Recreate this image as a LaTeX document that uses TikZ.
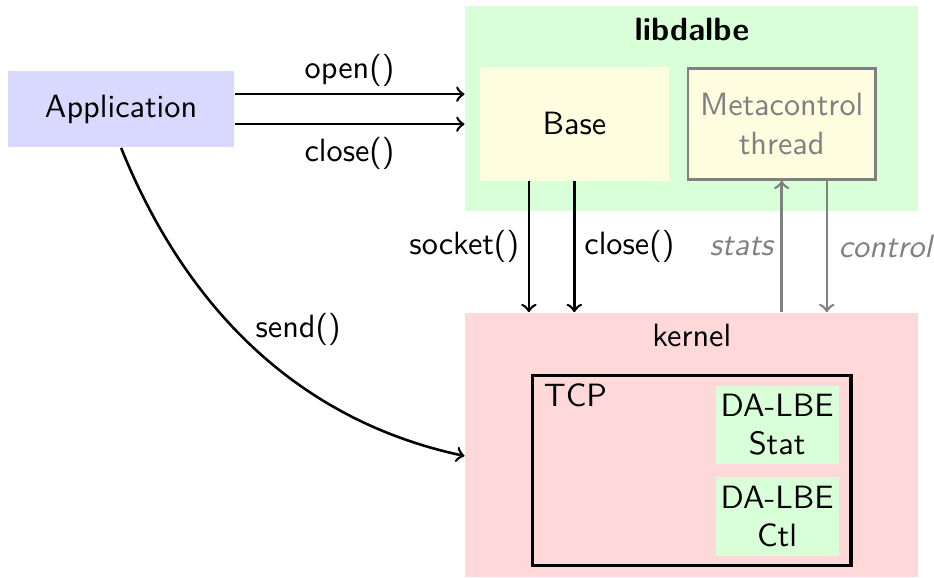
\documentclass[tikz,border=0pt]{standalone}
\renewcommand{\familydefault}{\sfdefault}
\begin{document}
\begin{tikzpicture}[
  box/.style={inner sep=0pt, align=center},
  lbl/.style={inner sep=0pt}]
\useasboundingbox (0,0) rectangle (10.18,-6.29);
% layers
\node[box, fill=green!15, minimum width=4.94cm, minimum height=2.23cm] (lib) at (7.54,-1.18) {};
\node[box, fill=red!15, minimum width=4.94cm, minimum height=2.88cm] (kernel) at (7.54,-4.85) {};
\node[lbl] (libname) at (7.54,-0.32) {\bfseries libdalbe};
\node[lbl] (kername) at (7.54,-3.66) {kernel};
% boxes
\node[box, fill=blue!15, minimum width=2.47cm, minimum height=0.83cm] (app) at (1.32,-1.19) {Application};
\node[box, fill=yellow!12, minimum width=2.06cm, minimum height=1.24cm] (base) at (6.26,-1.35) {Base};
\node[box, fill=yellow!12, draw=gray, thick, text=gray, minimum width=2.04cm, minimum height=1.21cm] (meta) at (8.52,-1.35) {Metacontrol\\thread};
\node[box, draw, line width=1pt, minimum width=3.47cm, minimum height=2.07cm] (tcp) at (7.54,-5.13) {};
\node[lbl, anchor=west] (tcpname) at (5.92,-4.31) {TCP};
\node[box, fill=green!15, minimum width=1.34cm, minimum height=0.85cm] (stat) at (8.47,-4.63) {DA-LBE\\Stat};
\node[box, fill=green!15, minimum width=1.34cm, minimum height=0.86cm] (ctl) at (8.47,-5.63) {DA-LBE\\Ctl};
% calls
\path[draw,thick,->] ([yshift=4.65pt]app.east) -- ([yshift=4.65pt]app.east -| lib.west);
\path[draw,thick,->] ([yshift=-4.65pt]app.east) -- ([yshift=-4.65pt]app.east -| lib.west);
\path[draw,thick,->] ([xshift=-14.1pt]base.south) -- ([xshift=-14.1pt]base.south |- kernel.north);
\path[draw,thick,->] (base.south) -- (base.south |- kernel.north);
\path[draw,thick,->,gray] (meta.south |- kernel.north) -- (meta.south);
\path[draw,thick,->,gray] ([xshift=14pt]meta.south) -- ([xshift=14pt]meta.south |- kernel.north);
\path[draw,thick,->] (app.south) to[out=-68, in=168, looseness=0.95] ([yshift=-3.4pt]kernel.west);
% labels
\node[lbl] (openlbl) at (3.81,-0.77) {open()};
\node[lbl] (closelbl) at (3.81,-1.67) {close()};
\node[lbl] (socklbl) at (5.06,-2.69) {socket()};
\node[lbl] (kcloselbl) at (6.86,-2.69) {close()};
\node[lbl, text=gray] (statslbl) at (8.08,-2.69) {\itshape stats};
\node[lbl, text=gray] (ctrllbl) at (9.65,-2.69) {\itshape control};
\node[lbl] (sendlbl) at (3.25,-3.59) {send()};
\end{tikzpicture}
\end{document}
